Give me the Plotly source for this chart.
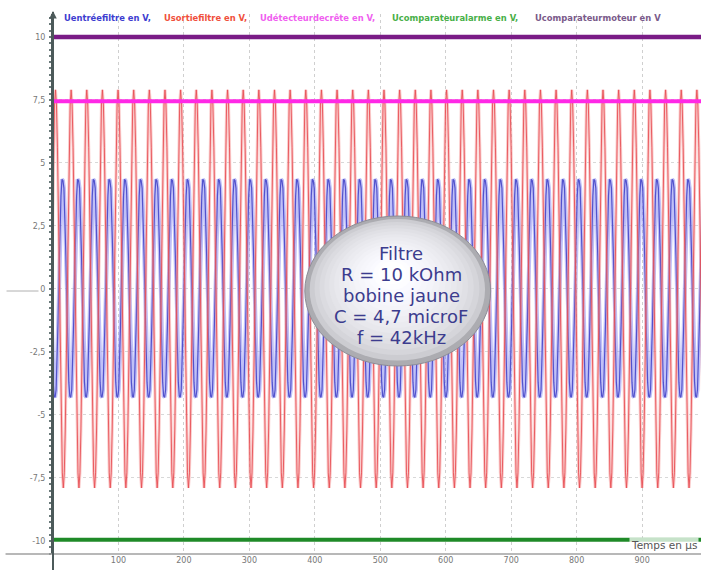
import plotly.graph_objects as go

# ---------------------------------------------------------------
# Acquisition : filtre RLC, f = 42 kHz
# ---------------------------------------------------------------
periode_us = 23.9            # période du signal (µs)
pas_us = periode_us / 16     # 16 échantillons par période
nb_periodes = 44

# une période de chaque voie (V), à partir d'une crête
entree_periode_V = [4.35, 4.3, 4.0, 3.0, 1.3, -0.6, -2.4, -3.7,
                    -4.25, -4.3, -4.0, -3.0, -1.3, 0.6, 2.4, 3.7]
sortie_periode_V = [7.9, 7.3, 5.6, 3.0, 0.0, -3.0, -5.6, -7.3,
                    -7.9, -7.3, -5.6, -3.0, 0.0, 3.0, 5.6, 7.3]
debut_entree_us = -10.2
debut_sortie_us = -20.1

# voies continues
t_continu_us = [0, 990]
detecteur_V = [7.45, 7.45]
alarme_V = [-9.95, -9.95]
moteur_V = [10.0, 10.0]

x_ticks = [100, 200, 300, 400, 500, 600, 700, 800, 900]
y_ticks = [-10, -7.5, -5, -2.5, 0, 2.5, 5, 7.5, 10]
y_labels = ["-10", "-7,5", "-5", "-2,5", "0", "2,5", "5", "7,5", "10"]

legende = ["Uentréefiltre en V,", "Usortiefiltre en V,",
           "Udétecteurdecrête en V,", "Ucomparateuralarme en V,",
           "Ucomparateurmoteur en V"]
couleurs_legende = ["#3d3dd0", "#f0503c", "#f060f0", "#48b048", "#7a5a8a"]
x_legende_px = [62, 162, 258, 390, 533]

cartouche = ["Filtre", "R = 10 kOhm", "bobine jaune", "C = 4,7 microF", "f = 42kHz"]


def repete(periode, debut):
    n = len(periode)
    t = [debut + k * pas_us for k in range(n * nb_periodes + 1)]
    v = [periode[k % n] for k in range(n * nb_periodes + 1)]
    return t, v


t_e, u_e = repete(entree_periode_V, debut_entree_us)
t_s, u_s = repete(sortie_periode_V, debut_sortie_us)

fig = go.Figure()
# entrée du filtre : trait large pâle + trait fin foncé
fig.add_trace(go.Scatter(x=t_e, y=u_e, mode="lines",
                         line=dict(color="rgba(140,140,240,0.55)", width=4)))
fig.add_trace(go.Scatter(x=t_e, y=u_e, mode="lines",
                         line=dict(color="rgba(70,70,200,0.9)", width=1.2)))
# sortie du filtre
fig.add_trace(go.Scatter(x=t_s, y=u_s, mode="lines",
                         line=dict(color="rgba(245,140,140,0.45)", width=3)))
fig.add_trace(go.Scatter(x=t_s, y=u_s, mode="lines",
                         line=dict(color="rgba(232,80,85,0.9)", width=1)))
fig.add_trace(go.Scatter(x=t_continu_us, y=detecteur_V, mode="lines",
                         line=dict(color="#ff28e6", width=4)))
fig.add_trace(go.Scatter(x=t_continu_us, y=alarme_V, mode="lines",
                         line=dict(color="#1f8a28", width=4)))
fig.add_trace(go.Scatter(x=t_continu_us, y=moteur_V, mode="lines",
                         line=dict(color="#7a1c86", width=4.5)))

# géométrie de la zone de tracé (pixels)
W, H = 701, 570
ML, MR, MT, MB = 52.5, 0, 14, 16
PW, PH = W - ML - MR, H - MT - MB


def px(x):
    return (x - ML) / PW


def py(y):
    return (H - MB - y) / PH


shapes = []
# axe des temps (gris) prolongé à gauche
shapes.append(dict(type="line", xref="paper", yref="paper",
                   x0=px(5), x1=1, y0=0, y1=0,
                   line=dict(color="#a0a0a0", width=1.5), layer="above"))
# repère du zéro à gauche des graduations
shapes.append(dict(type="line", xref="paper", yref="paper",
                   x0=px(6), x1=px(38), y0=py(291), y1=py(291),
                   line=dict(color="#b0b0b0", width=1), layer="above"))
# prolongement de l'axe vertical
shapes.append(dict(type="line", xref="paper", yref="paper",
                   x0=0, x1=0, y0=py(570), y1=py(12),
                   line=dict(color="#4c5a5a", width=2), layer="above"))

# cartouche elliptique (dégradé par couches)
cx, cy, ew, eh = 397.5, 291, 186, 150
N = 16
for i in range(N):
    f = i / (N - 1)
    s = 1 - 0.85 * f
    c = int(172 + (255 - 172) * (f ** 0.35))
    ccx = cx - 0.03 * ew * f
    ccy = cy - 0.12 * eh * f
    shapes.append(dict(type="circle", xref="paper", yref="paper",
                       x0=px(ccx - s * ew / 2), x1=px(ccx + s * ew / 2),
                       y0=py(ccy + s * eh / 2), y1=py(ccy - s * eh / 2),
                       fillcolor=f"rgb({c},{c},{min(255, c + 5)})",
                       line=dict(width=1 if i == 0 else 0, color="#8c8c96"),
                       layer="above"))

annotations = []
# légende en tête
for nom, col, xl in zip(legende, couleurs_legende, x_legende_px):
    annotations.append(dict(xref="paper", yref="paper", x=px(xl), y=py(18),
                            xanchor="left", yanchor="middle", showarrow=False,
                            text=f"<b>{nom}</b>",
                            font=dict(family="DejaVu Sans", size=8.4, color=col)))
# flèche de l'axe vertical
annotations.append(dict(xref="paper", yref="paper", x=0, y=py(11),
                        ax=0, ay=12, showarrow=True, arrowhead=2,
                        arrowsize=1, arrowwidth=1.5, arrowcolor="#4c5a5a",
                        text=""))
# titre de l'axe des temps
annotations.append(dict(xref="paper", yref="paper", x=px(699), y=py(545),
                        xanchor="right", yanchor="middle", showarrow=False,
                        text="Temps en µs", bgcolor="rgba(255,255,255,0.75)",
                        font=dict(family="DejaVu Sans", size=10.5, color="#555")))
# texte du cartouche
for k, ligne in enumerate(cartouche):
    annotations.append(dict(xref="paper", yref="paper", x=px(401),
                            y=py(253.5 + 21 * k), xanchor="center",
                            yanchor="middle", showarrow=False,
                            text=ligne,
                            font=dict(family="DejaVu Sans", size=18,
                                      color="#3c3c8e")))

fig.update_layout(
    width=W, height=H,
    margin=dict(l=ML, r=MR, t=MT, b=MB, pad=0),
    paper_bgcolor="white", plot_bgcolor="white",
    showlegend=False,
    separators=", ",
    shapes=shapes,
    annotations=annotations,
    xaxis=dict(range=[0, 990], tickvals=x_ticks, showline=False,
               showgrid=True, gridcolor="#cfcfcf", griddash="dot",
               gridwidth=1, zeroline=False, ticks="",
               tickfont=dict(family="DejaVu Sans", size=8, color="#777")),
    yaxis=dict(range=[-10.52, 10.91], tickvals=y_ticks, ticktext=y_labels,
               showline=True, linecolor="#4c5a5a", linewidth=2,
               showgrid=True, gridcolor="#d8d8d8", griddash="dot",
               zeroline=False, ticks="", ticklabelstandoff=4,
               minor=dict(dtick=0.25, ticks="outside", ticklen=2,
                          tickwidth=2, tickcolor="#6a7a7a", showgrid=False),
               tickfont=dict(family="DejaVu Sans", size=8, color="#777")),
)

fig.write_html("out.html")
